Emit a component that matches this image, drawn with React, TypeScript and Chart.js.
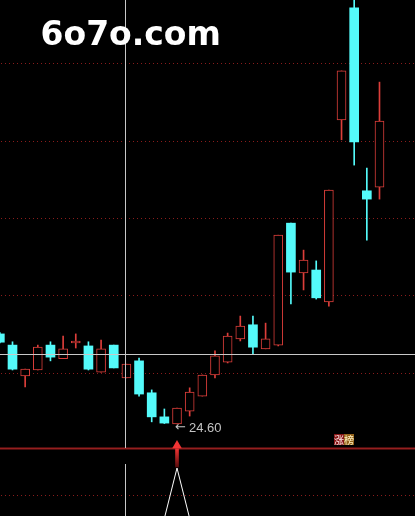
import React, { useEffect, useRef } from 'react';
import { Chart, registerables } from 'chart.js';

Chart.register(...registerables);

// ---- data ----
const candleIndex = [0, 1, 2, 3, 4, 5, 6, 7, 8, 9, 10, 11, 12, 13, 14, 15, 16, 17, 18, 19, 20, 21, 22, 23, 24, 25, 26, 27, 28, 29, 30];
const opens = [26.77, 26.50, 25.76, 25.90, 26.50, 26.17, 26.55, 26.48, 25.85, 26.50, 25.71, 26.12, 25.35, 24.77, 24.60, 24.91, 25.27, 25.78, 26.09, 26.65, 26.99, 26.41, 26.50, 29.44, 28.24, 28.31, 27.54, 31.93, 34.63, 30.22, 30.31];
const closes = [26.57, 25.92, 25.92, 26.45, 26.21, 26.41, 26.60, 25.92, 26.41, 25.95, 26.04, 25.32, 24.77, 24.62, 24.98, 25.37, 25.78, 26.24, 26.72, 26.96, 26.45, 26.65, 29.15, 28.26, 28.55, 27.64, 30.24, 33.11, 31.40, 30.02, 31.90];
const highs = [26.80, 26.58, 25.92, 26.50, 26.58, 26.72, 26.77, 26.58, 26.62, 26.50, 26.04, 26.19, 25.42, 24.96, 24.98, 25.47, 25.78, 26.36, 26.79, 27.20, 27.20, 27.03, 29.15, 29.44, 28.79, 28.53, 30.24, 33.11, 35.10, 30.77, 32.84];
const lows = [26.55, 25.90, 25.49, 25.90, 26.12, 26.17, 26.43, 25.90, 25.85, 25.95, 25.71, 25.27, 24.65, 24.61, 24.60, 24.79, 25.27, 25.71, 26.07, 26.60, 26.29, 26.41, 26.48, 27.49, 27.83, 27.61, 27.44, 31.45, 30.84, 29.03, 30.02];

// lower-panel indicator (spike at the signal bar)
const indicatorValues = [0, 0, 0, 0, 0, 0, 0, 0, 0, 0, 0, 0, 0, 0, 1, 0, 0, 0, 0, 0, 0, 0, 0, 0, 0, 0, 0, 0, 0, 0, 0];
const signalIndex = 14;
const arrowShaft = [1.02, 1.38];
const arrowHead = 1.446;

// price levels
const gridPrices = [33.30, 31.42, 29.564, 27.708, 25.827];
const lowerGridPrice = 22.886;
const separatorPrice = 24.02;
const crossPrice = 26.278;
const crossIndex = 9.913;
const lowMarkIndex = 14;
const lowMarkText = '24.60';
const tagIndex = 26.4;
const tagChars = ['涨', '榜'];
const watermark = '6o7o.com';

// scale ranges
const xRange = [0.012, 32.806];
const yRange = [22.38, 34.82];
const y2Range = [0.048, 10.286];

const RED = '#dc3e3a';
const CYAN = '#54fafa';

const overlayPlugin = {
  id: 'overlay',
  beforeDatasetsDraw(chart: any) {
    const { ctx, chartArea, scales } = chart;
    const y = scales.y;
    ctx.save();
    ctx.fillStyle = '#8a1c1c';
    for (const g of [...gridPrices, lowerGridPrice]) {
      const py = Math.round(y.getPixelForValue(g));
      for (let px = Math.round(chartArea.left) + 1; px < chartArea.right; px += 4) {
        ctx.fillRect(px, py, 1, 1);
      }
    }
    const sp = Math.round(y.getPixelForValue(separatorPrice));
    ctx.fillStyle = '#4a0d0d';
    ctx.fillRect(chartArea.left, sp - 1, chartArea.right - chartArea.left, 3);
    ctx.fillStyle = '#951f1f';
    ctx.fillRect(chartArea.left, sp, chartArea.right - chartArea.left, 1);
    ctx.restore();
  },
  afterDatasetsDraw(chart: any) {
    const { ctx, chartArea, scales } = chart;
    const x = scales.x;
    const y = scales.y;
    ctx.save();
    // crosshair
    const sp = Math.round(y.getPixelForValue(separatorPrice));
    const cx = Math.round(x.getPixelForValue(crossIndex)) + 0.5;
    const cy = Math.round(y.getPixelForValue(crossPrice)) + 0.5;
    ctx.strokeStyle = '#c8c8c8';
    ctx.lineWidth = 1;
    ctx.beginPath();
    ctx.moveTo(chartArea.left, cy);
    ctx.lineTo(chartArea.right, cy);
    ctx.moveTo(cx, chartArea.top);
    ctx.lineTo(cx, sp);
    ctx.moveTo(cx, sp + 16);
    ctx.lineTo(cx, chartArea.bottom);
    ctx.stroke();

    // low mark
    const lx = x.getPixelForValue(lowMarkIndex) - 2;
    const ly = y.getPixelForValue(lows[lowMarkIndex]) + 4;
    ctx.fillStyle = '#c4c4c4';
    ctx.textBaseline = 'middle';
    ctx.textAlign = 'left';
    ctx.font = '13px "DejaVu Sans"';
    ctx.fillText('←', lx, ly);
    ctx.font = '13px "Liberation Sans"';
    ctx.fillText(lowMarkText, lx + 14, ly + 1);

    // tag
    const tx = Math.round(x.getPixelForValue(tagIndex));
    const ty = sp - 14;
    ctx.fillStyle = '#861616';
    ctx.fillRect(tx, ty, 10, 11);
    ctx.fillStyle = '#94641c';
    ctx.fillRect(tx + 10, ty, 10, 11);
    ctx.font = '10px "Noto Sans CJK SC"';
    ctx.textAlign = 'center';
    ctx.fillStyle = '#ffe8e8';
    ctx.fillText(tagChars[0], tx + 5, ty + 6);
    ctx.fillStyle = '#fff0c0';
    ctx.fillText(tagChars[1], tx + 15, ty + 6);

    // watermark
    ctx.textAlign = 'left';
    ctx.textBaseline = 'alphabetic';
    ctx.font = 'bold 33px "DejaVu Sans"';
    ctx.fillStyle = '#ffffff';
    ctx.fillText(watermark, chartArea.left + 40.5, chartArea.top + 45);
    ctx.restore();
  },
};

export default function App() {
  const ref = useRef<HTMLCanvasElement | null>(null);

  useEffect(() => {
    if (!ref.current) return;
    const up = candleIndex.map((i) => closes[i] >= opens[i]);
    const wickData = candleIndex.map((i) => ({ x: i, y: [lows[i], highs[i]] }));
    const bodyData = candleIndex.map((i) => ({ x: i, y: [Math.min(opens[i], closes[i]), Math.max(opens[i], closes[i])] }));

    const shaftColor = (c: any) => {
      const ch = c.chart;
      const s = ch.scales && ch.scales.y2;
      if (!s) return '#e83030';
      const a = s.getPixelForValue(arrowShaft[1]);
      const b = s.getPixelForValue(arrowShaft[0]);
      if (!isFinite(a) || !isFinite(b) || a === b) return '#e83030';
      const g = ch.ctx.createLinearGradient(0, a, 0, b);
      g.addColorStop(0, '#f03232');
      g.addColorStop(1, '#5a0c0c');
      return g;
    };

    const chart = new Chart(ref.current, {
      type: 'bar',
      data: {
        datasets: [
          {
            type: 'line',
            data: candleIndex.map((i) => ({ x: i, y: indicatorValues[i] })),
            yAxisID: 'y2',
            borderColor: '#ffffff',
            borderWidth: 1,
            pointRadius: 0,
            tension: 0,
            clip: 0,
            order: 5,
          } as any,
          {
            type: 'bar',
            data: [{ x: signalIndex, y: arrowShaft }],
            yAxisID: 'y2',
            barThickness: 3,
            grouped: false,
            backgroundColor: shaftColor,
            order: 4,
          } as any,
          {
            type: 'scatter',
            data: [{ x: signalIndex, y: arrowHead }],
            yAxisID: 'y2',
            pointStyle: 'triangle',
            pointRadius: 5.5,
            pointBackgroundColor: '#f23434',
            pointBorderWidth: 0,
            order: 3,
          } as any,
          {
            type: 'bar',
            data: wickData,
            yAxisID: 'y',
            barThickness: 1,
            grouped: false,
            backgroundColor: candleIndex.map((i) => (up[i] ? RED : CYAN)),
            order: 2,
          } as any,
          {
            type: 'bar',
            data: bodyData,
            yAxisID: 'y',
            barThickness: 9,
            grouped: false,
            backgroundColor: candleIndex.map((i) => (up[i] ? '#000000' : CYAN)),
            borderColor: candleIndex.map((i) => (up[i] ? RED : CYAN)),
            borderWidth: candleIndex.map((i) => (up[i] ? 1 : 0)),
            borderSkipped: false,
            order: 1,
          } as any,
        ],
      },
      options: {
        animation: false,
        responsive: false,
        maintainAspectRatio: false,
        layout: { padding: 0, autoPadding: false },
        plugins: { legend: { display: false }, tooltip: { enabled: false } },
        scales: {
          x: { type: 'linear', min: xRange[0], max: xRange[1], offset: false, display: false },
          y: { type: 'linear', min: yRange[0], max: yRange[1], display: false },
          y2: { type: 'linear', min: y2Range[0], max: y2Range[1], display: false },
        },
      } as any,
      plugins: [overlayPlugin],
    });
    return () => chart.destroy();
  }, []);

  return (
    <div style={{ position: 'fixed', left: 0, top: 0, width: 415, height: 516, background: '#000' }}>
      <canvas ref={ref} width={415} height={516} style={{ display: 'block', width: 415, height: 516 }} />
    </div>
  );
}
